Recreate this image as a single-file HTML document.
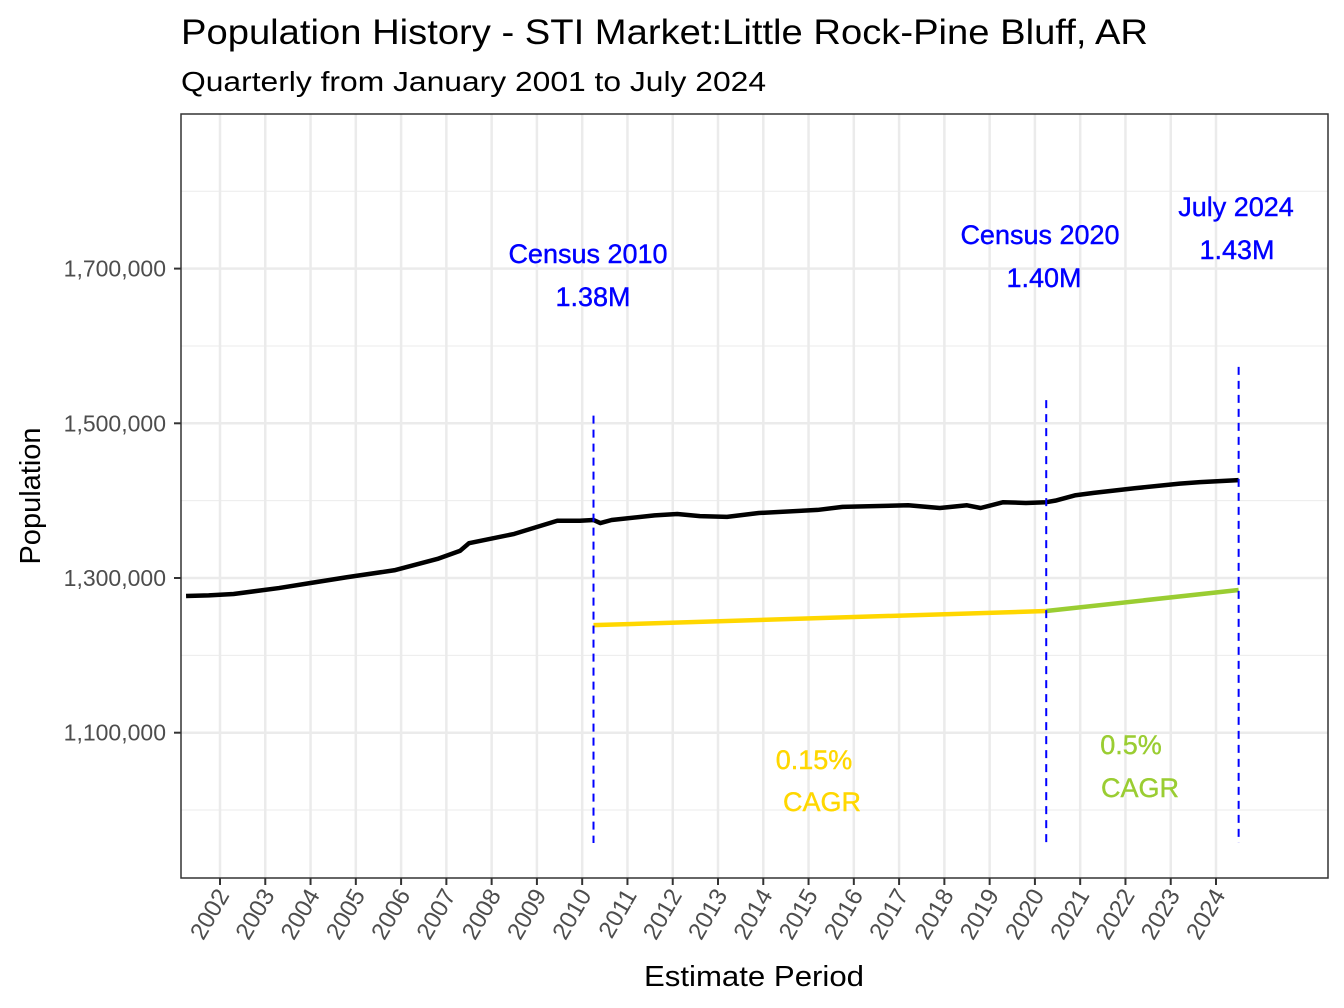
<!DOCTYPE html>
<html><head><meta charset="utf-8"><style>body{margin:0;background:#fff}svg{display:block}text{font-family:"Liberation Sans",Arial,sans-serif}</style></head>
<body>
<svg id="chart" width="1344" height="1008" viewBox="0 0 1344 1008">
<rect width="1344" height="1008" fill="#fff"/>
<text x="181" y="44" font-size="35" textLength="967" lengthAdjust="spacingAndGlyphs">Population History - STI Market:Little Rock-Pine Bluff, AR</text>
<text x="181" y="91" font-size="28" textLength="585" lengthAdjust="spacingAndGlyphs">Quarterly from January 2001 to July 2024</text>
<g id="grid"></g>
<g id="marks"></g>
<g id="axes"></g>
<rect x="181" y="114" width="1147" height="764" fill="none" stroke="#333" stroke-width="1.5"/>
<text x="754" y="986" font-size="29" text-anchor="middle" textLength="220" lengthAdjust="spacingAndGlyphs">Estimate Period</text>
<text transform="translate(40,496) rotate(-90)" font-size="29" text-anchor="middle">Population</text>
</svg>
<script>
const years=[2001.25,2001.75,2002.3,2003.3,2004.0,2004.8,2005.85,2006.8,2007.3,2007.5,2008.5,2009.45,2009.95,2010.25,2010.4,2010.65,2011.6,2012.1,2012.6,2013.2,2013.9,2015.2,2015.75,2017.2,2017.9,2018.5,2018.8,2019.3,2019.8,2020.25,2020.45,2020.9,2021.3,2022.2,2023.2,2023.65,2024.5];
const population=[1276700,1277500,1279300,1287000,1293500,1301000,1310000,1324600,1335000,1345000,1357000,1374000,1374000,1375000,1371000,1375000,1381000,1382700,1380000,1379000,1384000,1388000,1392000,1394000,1390500,1394000,1390500,1398000,1397000,1398000,1400000,1407000,1410000,1416000,1422000,1424000,1426500];
const cagrYears1=[2010.25,2020.25];
const cagrValues1=[1239000,1257300];
const cagrYears2=[2020.25,2024.5];
const cagrValues2=[1257300,1284500];
const tickYears=[2002,2003,2004,2005,2006,2007,2008,2009,2010,2011,2012,2013,2014,2015,2016,2017,2018,2019,2020,2021,2022,2023,2024];
const yMajor=[1100000,1300000,1500000,1700000];
const yMajorLabels=["1,100,000","1,300,000","1,500,000","1,700,000"];
const yMinor=[1000000,1200000,1400000,1600000,1800000];
const refYears=[2010.25,2020.25,2024.5];
const refTops=[1510000,1530000,1573000];
const refLabels1=["Census 2010","Census 2020","July 2024"];
const refLabels2=["1.38M","1.40M","1.43M"];

const NS="http://www.w3.org/2000/svg";
const X=y=>220+(y-2002)*45.273;
const Y=v=>578-(v-1300000)*0.0007735;
function mk(tag,attrs,parent,txt){const e=document.createElementNS(NS,tag);for(const k in attrs)e.setAttribute(k,attrs[k]);if(txt!==undefined)e.textContent=txt;document.getElementById(parent).appendChild(e);return e;}

yMinor.forEach(v=>{const l=mk('line',{x1:181,x2:1328,y1:Y(v),y2:Y(v),stroke:'#ebebeb','stroke-width':1},'grid');

});
yMajor.forEach((v,i)=>{const l=mk('line',{x1:181,x2:1328,y1:Y(v),y2:Y(v),stroke:'#ebebeb','stroke-width':2.5},'grid');


const t=mk('line',{x1:174,x2:181,y1:Y(v),y2:Y(v),stroke:'#333','stroke-width':2},'axes');


const tx=mk('text',{x:166,y:Y(v)+8,'font-size':23,'text-anchor':'end',fill:'#4d4d4d'},'axes',yMajorLabels[i]);

});
tickYears.forEach(yr=>{const x=X(yr);const l=mk('line',{x1:x,x2:x,y1:114,y2:878,stroke:'#ebebeb','stroke-width':2.5},'grid');


const t=mk('line',{x1:x,x2:x,y1:878,y2:885,stroke:'#333','stroke-width':2},'axes');


const tx=mk('text',{transform:`translate(${x+10},895) rotate(-60)`,'font-size':24,'text-anchor':'end',fill:'#4d4d4d'},'axes',String(yr));

});

function line(xs,vs,color,w,name){const p=mk('polyline',{points:xs.map((x,i)=>X(x)+','+Y(vs[i])).join(' '),fill:'none',stroke:color,'stroke-width':w,'stroke-linejoin':'round'},'marks');

}
line(cagrYears1,cagrValues1,'#ffd700',4.5,'cagr-line-2010-2020');
line(cagrYears2,cagrValues2,'#9acd32',4.5,'cagr-line-2020-2024');
line(years,population,'#000',4.5,'population-line');
refYears.forEach((yr,i)=>{const x=X(yr);const l=mk('line',{x1:x,x2:x,y1:Y(refTops[i]),y2:843,stroke:'#0000ff','stroke-width':2,'stroke-dasharray':'8,6'},'marks');

});
const ann=[[588,263,refLabels1[0]],[593,306,refLabels2[0]],[1040,244,refLabels1[1]],[1044,287,refLabels2[1]],[1236,216,refLabels1[2]],[1237,259,refLabels2[2]]];
ann.forEach(a=>{const t=mk('text',{x:a[0],y:a[1],'font-size':27,'text-anchor':'middle',fill:'#0000ff',stroke:'#0000ff','stroke-width':0.4},'marks',a[2]);

});
const c=[[814,769,'0.15%','#ffd700'],[822,811,'CAGR','#ffd700'],[1131,754,'0.5%','#9acd32'],[1140,797,'CAGR','#9acd32']];
c.forEach(a=>{const t=mk('text',{x:a[0],y:a[1],'font-size':27,'text-anchor':'middle',fill:a[3],stroke:a[3],'stroke-width':0.4},'marks',a[2]);

});
</script>
</body></html>
